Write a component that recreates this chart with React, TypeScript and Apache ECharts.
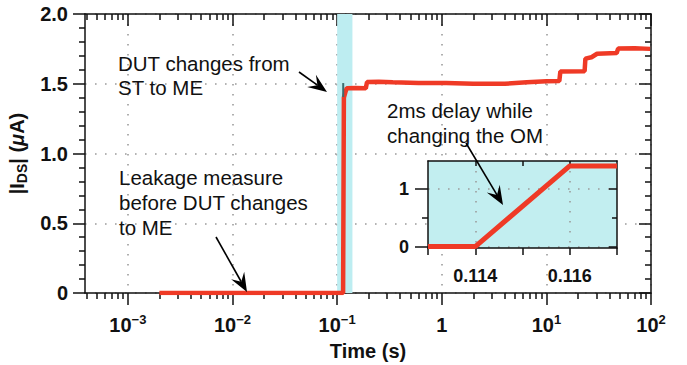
import React, { useEffect, useRef } from 'react';
import * as echarts from 'echarts';

// ---- data ----
const mainTime = [0.002, 0.114, 0.116, 0.1205, 0.1235, 0.15, 0.188, 0.193, 0.25, 0.34, 0.6, 1.1, 2, 4, 6.5, 10, 13.3, 13.6, 23.2, 23.6, 27, 30.5, 47, 48.5, 70, 98];
const mainCurrent = [0, 0, 1.4, 1.445, 1.468, 1.47, 1.468, 1.512, 1.515, 1.51, 1.505, 1.505, 1.5, 1.5, 1.51, 1.518, 1.52, 1.587, 1.59, 1.68, 1.69, 1.715, 1.72, 1.752, 1.755, 1.75];
const markerTime = [0.1143, 0.1143];
const markerCurrent = [1.405, 1.505];
const bandTime = [0.1, 0.14];
const insetTime = [0.113, 0.114, 0.116, 0.117];
const insetCurrent = [0, 0, 1.4, 1.4];
const decadeExponents = [-3, -2, -1, 0, 1, 2];
const insetXTicks = [0.113, 0.114, 0.115, 0.116, 0.117];
const insetXLabels = [0.114, 0.116];
const insetYTicks = [0, 1];

const FONT = "'Liberation Sans', Arial, Helvetica, sans-serif";
const RED = '#ef3a26';
const INK = '#111111';
const GRIDC = '#9c9c9c';

const X_MIN = -3.41;
const X_MAX = 2;

const minorExponents: number[] = [];
for (let n = -4; n <= 1; n++) {
  for (let k = 2; k <= 9; k++) {
    const v = Math.log10(k * Math.pow(10, n));
    if (v > X_MIN && v < X_MAX) minorExponents.push(v);
  }
}

const axLine = { show: true, onZero: false, lineStyle: { color: INK, width: 1.5 } };
const tickStyle = { color: INK, width: 1.5 };
const dotted = { color: GRIDC, width: 1.6, type: [1.6, 8.4] as number[] };

function arrowGraphics(x1: number, y1: number, x2: number, y2: number, L = 19, W = 7.5) {
  const dx = x2 - x1, dy = y2 - y1;
  const len = Math.sqrt(dx * dx + dy * dy);
  const ux = dx / len, uy = dy / len;
  const nx = -uy, ny = ux;
  const notch = 0.62;
  return [
    {
      type: 'line', z: 20,
      shape: { x1, y1, x2: x2 - ux * L * notch, y2: y2 - uy * L * notch },
      style: { stroke: '#000', lineWidth: 1.6 },
    },
    {
      type: 'polygon', z: 20,
      shape: {
        points: [
          [x2, y2],
          [x2 - ux * L + nx * W, y2 - uy * L + ny * W],
          [x2 - ux * L * notch, y2 - uy * L * notch],
          [x2 - ux * L - nx * W, y2 - uy * L - ny * W],
        ],
      },
      style: { fill: '#000' },
    },
  ];
}

function textLine(text: string, x: number, y: number) {
  return {
    type: 'text', z: 20, x, y,
    style: { text, fontSize: 20.5, fontFamily: FONT, fill: INK, verticalAlign: 'middle', align: 'left' },
  };
}

export default function App() {
  const ref = useRef<HTMLDivElement>(null);

  useEffect(() => {
    if (!ref.current) return;
    const chart = echarts.init(ref.current, undefined, { renderer: 'svg' });

    const mainData = mainTime.map((t, i) => [Math.log10(t), mainCurrent[i]]);
    const markerData = markerTime.map((t, i) => [Math.log10(t), markerCurrent[i]]);
    const insetData = insetTime.map((t, i) => [t, insetCurrent[i]]);

    const labelRich = {
      b: { fontSize: 20, fontWeight: 'bold', fontFamily: FONT, color: INK, lineHeight: 24 },
      s: { fontSize: 13, fontWeight: 'bold', fontFamily: FONT, color: INK, lineHeight: 10, verticalAlign: 'top' },
    };

    const option: any = {
      animation: false,
      grid: [
        { left: 85, top: 14, right: 36, bottom: 72, containLabel: false, outerBoundsMode: 'none' },
        { left: 428, top: 161, width: 189, height: 87, show: true, backgroundColor: '#c2eef0', borderWidth: 0, z: 3, containLabel: false, outerBoundsMode: 'none' },
      ],
      xAxis: [
        {
          type: 'value', gridIndex: 0, position: 'bottom', min: X_MIN, max: X_MAX,
          axisLine: axLine,
          axisTick: { show: true, customValues: decadeExponents, length: 12, lineStyle: tickStyle },
          axisLabel: {
            customValues: decadeExponents, margin: 20,
            formatter: (v: number) => {
              if (Math.abs(v) < 1e-9) return '{b|1}';
              const e = Math.round(v);
              return `{b|10}{s|${e < 0 ? '\u2212' : ''}${Math.abs(e)}}`;
            },
            rich: labelRich,
          },
          splitLine: { show: true, lineStyle: dotted },
          name: 'Time (s)', nameLocation: 'middle', nameGap: 48,
          nameTextStyle: { fontSize: 20, fontWeight: 'bold', fontFamily: FONT, color: INK },
        },
        {
          type: 'value', gridIndex: 0, position: 'bottom', min: X_MIN, max: X_MAX,
          axisLine: { show: false, onZero: false },
          axisTick: { show: true, customValues: minorExponents, length: 6, lineStyle: tickStyle },
          axisLabel: { show: false }, splitLine: { show: false },
        },
        {
          type: 'value', gridIndex: 0, position: 'top', min: X_MIN, max: X_MAX,
          axisLine: axLine,
          axisTick: { show: true, inside: true, customValues: decadeExponents, length: 12, lineStyle: tickStyle },
          axisLabel: { show: false }, splitLine: { show: false },
        },
        {
          type: 'value', gridIndex: 0, position: 'top', min: X_MIN, max: X_MAX,
          axisLine: { show: false, onZero: false },
          axisTick: { show: true, inside: true, customValues: minorExponents, length: 6, lineStyle: tickStyle },
          axisLabel: { show: false }, splitLine: { show: false },
        },
        // inset
        {
          type: 'value', gridIndex: 1, position: 'bottom', min: insetXTicks[0], max: insetXTicks[insetXTicks.length - 1], z: 4,
          axisLine: axLine,
          axisTick: { show: true, customValues: insetXTicks, length: 7, lineStyle: tickStyle },
          axisLabel: {
            customValues: insetXLabels, margin: 19,
            formatter: (v: number) => v.toFixed(3),
            fontSize: 18, fontWeight: 'bold', fontFamily: FONT, color: INK,
          },
          splitLine: { show: false },
        },
        {
          type: 'value', gridIndex: 1, position: 'bottom', min: insetXTicks[0], max: insetXTicks[insetXTicks.length - 1], z: 4,
          axisLine: { show: false, onZero: false },
          axisTick: { show: false, customValues: insetXLabels },
          axisLabel: { show: false },
          splitLine: { show: true, lineStyle: dotted },
        },
        {
          type: 'value', gridIndex: 1, position: 'top', min: insetXTicks[0], max: insetXTicks[insetXTicks.length - 1], z: 4,
          axisLine: axLine,
          axisTick: { show: true, inside: true, customValues: insetXTicks.slice(1, -1), length: 5, lineStyle: tickStyle },
          axisLabel: { show: false }, splitLine: { show: false },
        },
      ],
      yAxis: [
        {
          type: 'value', gridIndex: 0, position: 'left', min: 0, max: 2, interval: 0.5,
          axisLine: axLine,
          axisTick: { show: true, length: 12, lineStyle: tickStyle },
          minorTick: { show: true, splitNumber: 5, length: 6, lineStyle: tickStyle },
          axisLabel: {
            margin: 17,
            formatter: (v: number) => (v === 0 ? '0' : v.toFixed(1)),
            fontSize: 20, fontWeight: 'bold', fontFamily: FONT, color: INK,
          },
          splitLine: { show: true, lineStyle: dotted },
          name: '{b||I}{sub|DS}{b|| (}{mu|\u03bc}{b|A)}',
          nameLocation: 'middle', nameGap: 46, nameRotate: 90,
          nameTextStyle: {
            rich: {
              b: { fontSize: 20, fontWeight: 'bold', fontFamily: FONT, color: INK, lineHeight: 24 },
              sub: { fontSize: 14, fontWeight: 'bold', fontFamily: FONT, color: INK, lineHeight: 12, verticalAlign: 'bottom' },
              mu: { fontSize: 20, fontWeight: 'bold', fontStyle: 'italic', fontFamily: FONT, color: INK, lineHeight: 24 },
            },
          },
        },
        {
          type: 'value', gridIndex: 0, position: 'right', min: 0, max: 2, interval: 0.5,
          axisLine: axLine,
          axisTick: { show: true, inside: true, length: 12, lineStyle: tickStyle },
          minorTick: { show: true, splitNumber: 5, length: 6, lineStyle: tickStyle },
          axisLabel: { show: false }, splitLine: { show: false },
        },
        // inset
        {
          type: 'value', gridIndex: 1, position: 'left', min: -0.025, max: 1.485, z: 4,
          axisLine: axLine,
          axisTick: { show: true, customValues: insetYTicks, length: 13, lineStyle: tickStyle },
          axisLabel: {
            customValues: insetYTicks, margin: 19,
            formatter: (v: number) => String(Math.round(v)),
            fontSize: 18, fontWeight: 'bold', fontFamily: FONT, color: INK,
          },
          splitLine: { show: true, lineStyle: dotted },
        },
        {
          type: 'value', gridIndex: 1, position: 'left', min: -0.025, max: 1.485, z: 4,
          axisLine: { show: false, onZero: false },
          axisTick: { show: true, customValues: [0.5], length: 6, lineStyle: tickStyle },
          axisLabel: { show: false }, splitLine: { show: false },
        },
        {
          type: 'value', gridIndex: 1, position: 'right', min: -0.025, max: 1.485, z: 4,
          axisLine: axLine,
          axisTick: { show: true, inside: true, customValues: insetYTicks, length: 8, lineStyle: tickStyle },
          axisLabel: { show: false }, splitLine: { show: false },
        },
        {
          type: 'value', gridIndex: 1, position: 'right', min: -0.025, max: 1.485, z: 4,
          axisLine: { show: false, onZero: false },
          axisTick: { show: true, inside: true, customValues: [0.5], length: 5, lineStyle: tickStyle },
          axisLabel: { show: false }, splitLine: { show: false },
        },
      ],
      series: [
        {
          type: 'line', xAxisIndex: 0, yAxisIndex: 0, data: mainData,
          symbol: 'none', lineStyle: { color: RED, width: 4.5 }, z: 2,
          markArea: {
            silent: true,
            itemStyle: { color: '#bdedf1' },
            data: [[{ xAxis: Math.log10(bandTime[0]) }, { xAxis: Math.log10(bandTime[1]) }]],
          },
        },
        {
          type: 'line', xAxisIndex: 0, yAxisIndex: 0, data: markerData,
          symbol: 'none', lineStyle: { color: '#3c6d70', width: 2 }, z: 3,
        },
        {
          type: 'line', xAxisIndex: 4, yAxisIndex: 2, data: insetData,
          symbol: 'none', lineStyle: { color: RED, width: 5 }, z: 6,
        },
      ],
      graphic: [
        textLine('DUT changes from', 118, 63),
        textLine('ST to ME', 118, 87),
        ...arrowGraphics(299, 72, 327, 92),
        textLine('Leakage measure', 119, 177),
        textLine('before DUT changes', 119, 202),
        textLine('to ME', 119, 227),
        ...arrowGraphics(216, 237, 247, 292),
        textLine('2ms delay while', 387, 110),
        textLine('changing the OM', 387, 135),
        ...arrowGraphics(466, 143, 503, 205),
      ],
    };

    chart.setOption(option);
    return () => chart.dispose();
  }, []);

  return (
    <div
      ref={ref}
      style={{ position: 'fixed', left: 0, top: 0, width: 687, height: 365, background: '#fff' }}
    />
  );
}
